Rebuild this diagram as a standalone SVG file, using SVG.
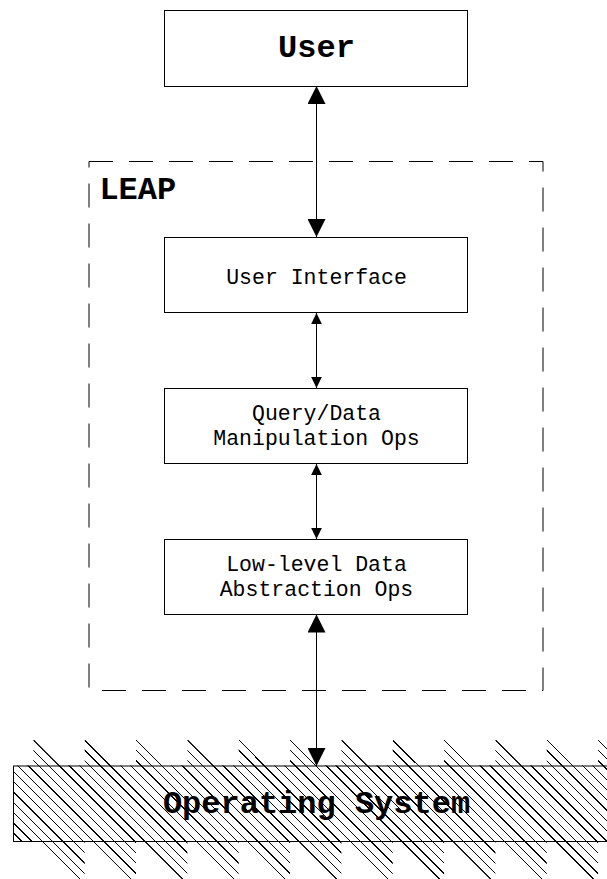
<svg xmlns="http://www.w3.org/2000/svg" width="607" height="879" viewBox="0 0 607 879">
  <style>
    .box { fill: #fff; stroke: #000; stroke-width: 1; }
    .frame { fill: none; stroke: #000; stroke-width: 1; stroke-dasharray: 24 16; }
    .conn { stroke: #000; stroke-width: 1; fill: none; }
    .big { marker-start: url(#headBig); marker-end: url(#headBig); }
    .small { marker-start: url(#headSmall); marker-end: url(#headSmall); }
    .label { font-family: "Liberation Mono", "DejaVu Sans Mono", monospace; font-size: 21.5px; fill: #000; text-anchor: middle; }
    .title { font-family: "Liberation Mono", "DejaVu Sans Mono", monospace; font-size: 32px; font-weight: bold; fill: #000; }
    .hatch { stroke: #000; stroke-width: 1; fill: none; shape-rendering: crispEdges; }
  </style>
  <defs>
    <marker id="headBig" viewBox="0 0 18 18" refX="18" refY="9" markerWidth="18" markerHeight="18" markerUnits="userSpaceOnUse" orient="auto-start-reverse">
      <path d="M0 0L18 9L0 18z" fill="#000"/>
    </marker>
    <marker id="headSmall" viewBox="0 0 11 10.7" refX="11" refY="5.35" markerWidth="11" markerHeight="10.7" markerUnits="userSpaceOnUse" orient="auto-start-reverse">
      <path d="M0 0L11 5.35L0 10.7z" fill="#000"/>
    </marker>
    <!-- hatch area: the slab itself plus the stubs sticking out above and below it -->
    <clipPath id="hatchArea">
      <rect x="13.5" y="765.5" width="610" height="76.5"/>
      <path d="M33.34 739L60.84 766.5L33.34 766.5Z M84.68 739L112.18 766.5L84.68 766.5Z M136.02 739L163.52 766.5L136.02 766.5Z M187.36 739L214.86 766.5L187.36 766.5Z M238.7 739L266.2 766.5L238.7 766.5Z M290.04 739L317.54 766.5L290.04 766.5Z M341.38 739L368.88 766.5L341.38 766.5Z M392.72 739L420.22 766.5L392.72 766.5Z M444.06 739L471.56 766.5L444.06 766.5Z M495.4 739L522.9 766.5L495.4 766.5Z M546.74 739L574.24 766.5L546.74 766.5Z M598.08 739L625.58 766.5L598.08 766.5Z
               M40.93 841L84.68 841L84.68 884.75Z M92.27 841L136.02 841L136.02 884.75Z M143.61 841L187.36 841L187.36 884.75Z M194.95 841L238.7 841L238.7 884.75Z M246.29 841L290.04 841L290.04 884.75Z M297.63 841L341.38 841L341.38 884.75Z M348.97 841L392.72 841L392.72 884.75Z M400.31 841L444.06 841L444.06 884.75Z M451.65 841L495.4 841L495.4 884.75Z M502.99 841L546.74 841L546.74 884.75Z M554.33 841L598.08 841L598.08 884.75Z"/>
    </clipPath>
  </defs>

  <rect width="607" height="879" fill="#fff"/>

  <!-- LEAP system boundary -->
  <g id="leap">
    <rect class="frame" x="89" y="161.5" width="454" height="529"/>
    <text class="title" x="99.4" y="199">LEAP</text>
  </g>

  <g id="user">
    <rect class="box" x="164.5" y="10.5" width="303" height="76"/>
    <text class="title" x="316.5" y="57" text-anchor="middle">User</text>
  </g>

  <g id="user-interface">
    <rect class="box" x="164.5" y="237.5" width="303" height="75"/>
    <text class="label" x="316.5" y="283.5">User Interface</text>
  </g>

  <g id="query-ops">
    <rect class="box" x="164.5" y="388.5" width="303" height="75"/>
    <text class="label" x="316.5" y="420">Query/Data</text>
    <text class="label" x="316.5" y="445">Manipulation Ops</text>
  </g>

  <g id="lowlevel-ops">
    <rect class="box" x="164.5" y="539.5" width="303" height="75"/>
    <text class="label" x="316.5" y="571">Low-level Data</text>
    <text class="label" x="316.5" y="596">Abstraction Ops</text>
  </g>

  <!-- operating system slab with diagonal hatching -->
  <g id="operating-system">
    <path class="hatch" clip-path="url(#hatchArea)" d="M-130.95 740
      l150 150m-139.732-150l150 150m-139.732-150l150 150m-139.732-150l150 150m-139.732-150l150 150m-139.732-150l150 150m-139.732-150l150 150m-139.732-150l150 150m-139.732-150l150 150m-139.732-150l150 150m-139.732-150
      l150 150m-139.732-150l150 150m-139.732-150l150 150m-139.732-150l150 150m-139.732-150l150 150m-139.732-150l150 150m-139.732-150l150 150m-139.732-150l150 150m-139.732-150l150 150m-139.732-150l150 150m-139.732-150
      l150 150m-139.732-150l150 150m-139.732-150l150 150m-139.732-150l150 150m-139.732-150l150 150m-139.732-150l150 150m-139.732-150l150 150m-139.732-150l150 150m-139.732-150l150 150m-139.732-150l150 150m-139.732-150
      l150 150m-139.732-150l150 150m-139.732-150l150 150m-139.732-150l150 150m-139.732-150l150 150m-139.732-150l150 150m-139.732-150l150 150m-139.732-150l150 150m-139.732-150l150 150m-139.732-150l150 150m-139.732-150
      l150 150m-139.732-150l150 150m-139.732-150l150 150m-139.732-150l150 150m-139.732-150l150 150m-139.732-150l150 150m-139.732-150l150 150m-139.732-150l150 150m-139.732-150l150 150m-139.732-150l150 150m-139.732-150
      l150 150m-139.732-150l150 150m-139.732-150l150 150m-139.732-150l150 150m-139.732-150l150 150m-139.732-150l150 150m-139.732-150l150 150m-139.732-150l150 150m-139.732-150l150 150m-139.732-150l150 150m-139.732-150
      l150 150m-139.732-150l150 150m-139.732-150l150 150m-139.732-150l150 150m-139.732-150l150 150m-139.732-150l150 150m-139.732-150l150 150m-139.732-150l150 150m-139.732-150l150 150m-139.732-150l150 150m-139.732-150
      l150 150m-139.732-150l150 150m-139.732-150l150 150"/>
    <rect x="13.5" y="766" width="610" height="75.5" fill="none" stroke="#000" stroke-width="1"/>
    <text class="title" x="316.5" y="813.3" text-anchor="middle">Operating System</text>
  </g>

  <!-- two-way connectors between layers -->
  <g id="connectors">
    <line class="conn big" x1="316.5" y1="86" x2="316.5" y2="237"/>
    <line class="conn small" x1="316.5" y1="313" x2="316.5" y2="388"/>
    <line class="conn small" x1="316.5" y1="464" x2="316.5" y2="539"/>
    <line class="conn big" x1="316.5" y1="614.5" x2="316.5" y2="766"/>
  </g>
</svg>
